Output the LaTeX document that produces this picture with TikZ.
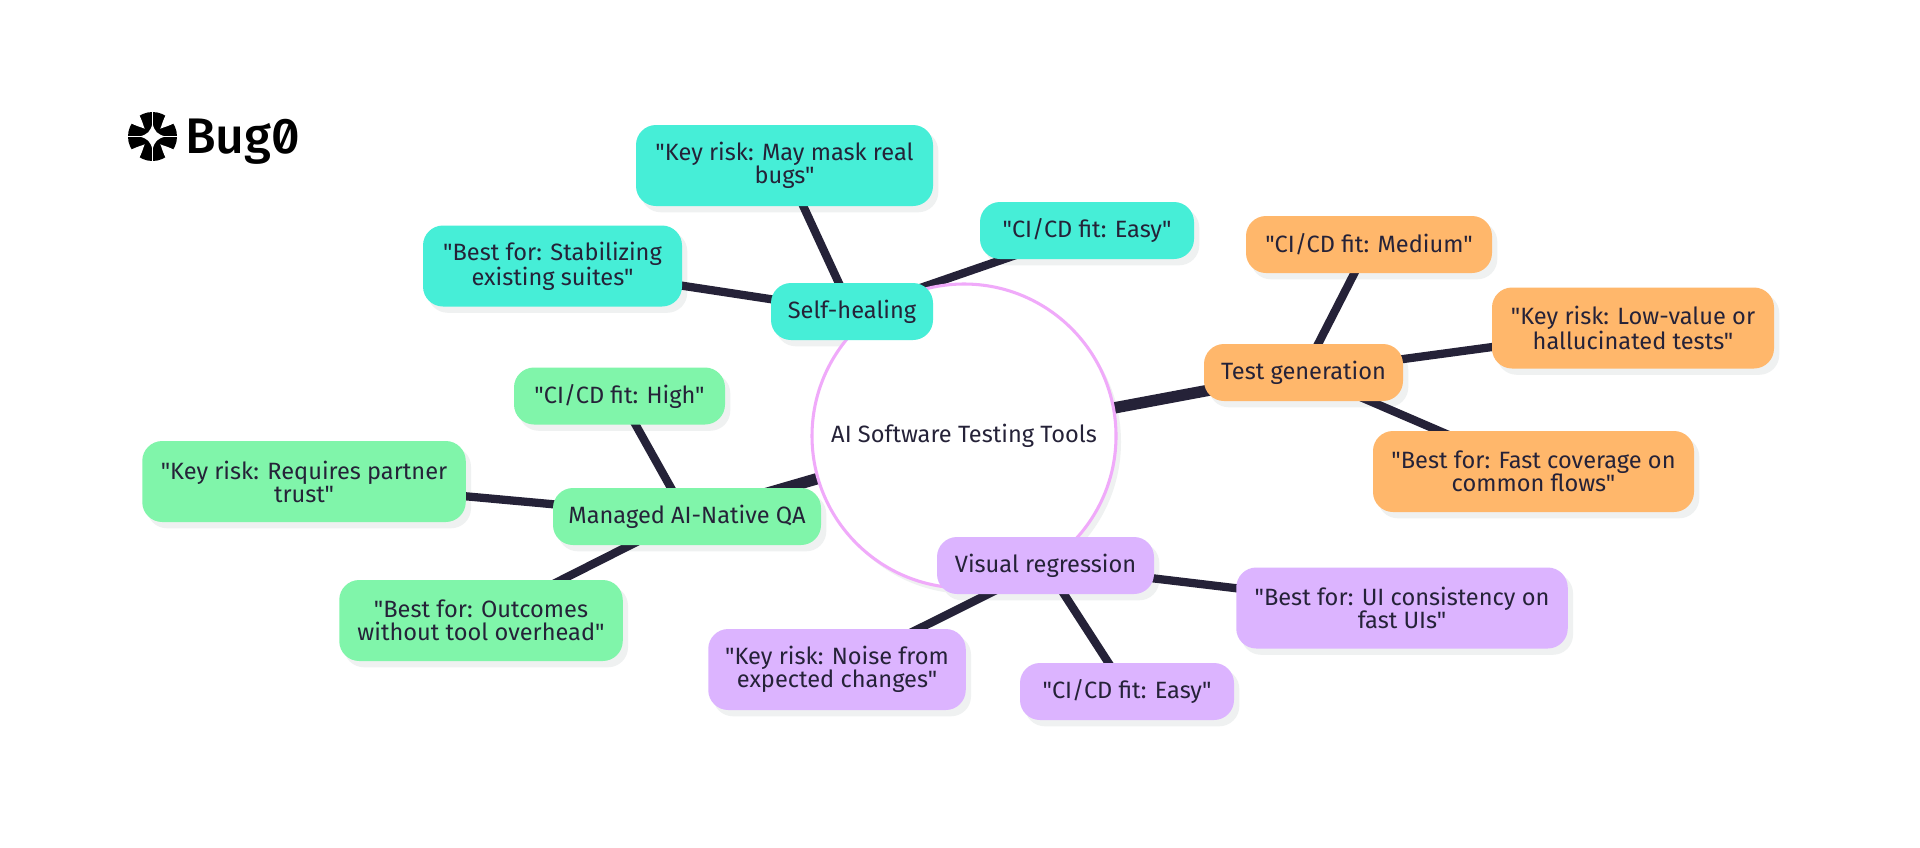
\documentclass[tikz,border=0pt]{standalone}
\usepackage{fontspec}
\newfontfamily\bodyfont{Fira Sans}
\newfontfamily\logofont[RawFeature=+zero]{Fira Sans Medium}
\definecolor{inkcol}{HTML}{252238}
\definecolor{tealcol}{HTML}{46EED7}
\definecolor{greencol}{HTML}{80F5AA}
\definecolor{orangecol}{HTML}{FFB76B}
\definecolor{purplecol}{HTML}{DCB4FF}
\definecolor{pinkcol}{HTML}{F0AAFA}
\definecolor{shadowcol}{HTML}{EFF1F1}
\pgfdeclarelayer{shadowlayer}
\pgfdeclarelayer{edgelayer}
\pgfsetlayers{shadowlayer,edgelayer,main}

\begin{document}
\begin{tikzpicture}[x=.75pt,y=-.75pt]
\tikzstyle{every node}=[text=inkcol,font=\bodyfont\fontsize{17.7}{17.3}\selectfont,align=center,inner sep=0pt]
\tikzstyle{box}=[rectangle,rounded corners=15pt,minimum height=42.75pt]
\tikzstyle{tall}=[minimum height=60.75pt]
\tikzstyle{wd}=[minimum width=#1*.75pt]
\tikzstyle{main edge}=[draw=inkcol,line width=8.6pt]
\tikzstyle{sub edge}=[draw=inkcol,line width=6.2pt]
\node[circle,fill=white,draw=pinkcol,line width=2.3pt,minimum size=228pt] (root) at (964,436) {AI Software Testing Tools};
\node[box,fill=tealcol,wd=162] (heal) at (852,311.5) {Self-healing};
\node[box,tall,fill=tealcol,wd=297] (healRisk) at (784.5,165.5) {"Key risk: May mask real\\bugs"};
\node[box,fill=tealcol,wd=214] (healFit) at (1087,230.5) {"CI/CD fit: Easy"};
\node[box,tall,fill=tealcol,wd=259] (healBest) at (552.5,266) {"Best for: Stabilizing\\existing suites"};
\node[box,fill=orangecol,wd=199] (gen) at (1303.5,372.5) {Test generation};
\node[box,fill=orangecol,wd=246] (genFit) at (1369,244.5) {"CI/CD fit: Medium"};
\node[box,tall,fill=orangecol,wd=282] (genRisk) at (1633,328) {"Key risk: Low-value or\\hallucinated tests"};
\node[box,tall,fill=orangecol,wd=321] (genBest) at (1533.5,471.5) {"Best for: Fast coverage on\\common flows"};
\node[box,fill=greencol,wd=268] (qa) at (687,516.5) {Managed AI-Native QA};
\node[box,fill=greencol,wd=211] (qaFit) at (619.5,396) {"CI/CD fit: High"};
\node[box,tall,fill=greencol,wd=323.5] (qaRisk) at (304,481.5) {"Key risk: Requires partner\\trust"};
\node[box,tall,fill=greencol,wd=283.5] (qaBest) at (481,620.5) {"Best for: Outcomes\\without tool overhead"};
\node[box,fill=purplecol,wd=217] (vis) at (1045.5,565.5) {Visual regression};
\node[box,tall,fill=purplecol,wd=331.5] (visBest) at (1402,608) {"Best for: UI consistency on\\fast UIs"};
\node[box,tall,fill=purplecol,wd=257.5] (visRisk) at (837,669.5) {"Key risk: Noise from\\expected changes"};
\node[box,fill=purplecol,wd=214] (visFit) at (1127,691.5) {"CI/CD fit: Easy"};
\begin{pgfonlayer}{shadowlayer}
\fill[white] (0,0) rectangle (1920,847);
\fill[shadowcol] (969,442) circle (152);
\foreach \n in {heal,healRisk,healFit,healBest,gen,genFit,genRisk,genBest,qa,qaFit,qaRisk,qaBest,vis,visBest,visRisk,visFit}
	\fill[shadowcol,rounded corners=15pt] ([shift={(5,6)}]\n.south west) rectangle ([shift={(5,6)}]\n.north east);
\end{pgfonlayer}
\begin{pgfonlayer}{edgelayer}
\foreach \n in {heal,gen,qa,vis}
	\draw[main edge] (root.center) -- (\n.center);
\foreach \a/\b in {heal/healRisk,heal/healFit,heal/healBest,gen/genFit,gen/genRisk,gen/genBest,qa/qaFit,qa/qaRisk,qa/qaBest,vis/visBest,vis/visRisk,vis/visFit}
	\draw[sub edge] (\a.center) -- (\b.center);
\end{pgfonlayer}
\begin{scope}[shift={(152.5,136.5)}]
\fill[black] (0,0) circle (24.5);
\fill[white] (-13,0) .. controls (-5,-2) and (-2,-5) .. (0,-13) .. controls (2,-5) and (5,-2) .. (13,0) .. controls (5,2) and (2,5) .. (0,13) .. controls (-2,5) and (-5,2) .. (-13,0) -- cycle;
\draw[white,line width=1pt] (-26,0) -- (26,0) (0,-26) -- (0,26);
\foreach \r in {45,135,225,315}
	\fill[white,rotate=\r] (11,0) .. controls (14,-1) and (18,-4) .. (27,-6.5) -- (27,6.5) .. controls (18,4) and (14,1) .. (11,0) -- cycle;
\end{scope}
\node[anchor=base west,font=\logofont\fontsize{37.5}{40}\selectfont,text=black] (logo) at (185,153) {Bug0};
\useasboundingbox (0,0) rectangle (1920,847);
\end{tikzpicture}
\end{document}
